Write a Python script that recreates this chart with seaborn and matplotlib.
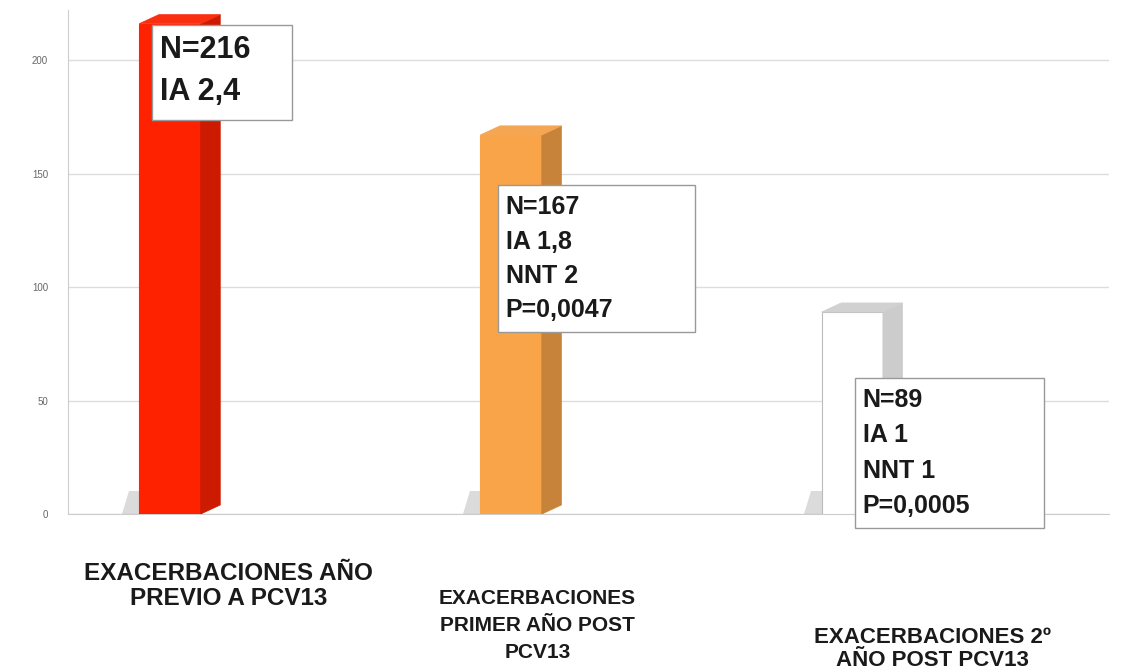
import matplotlib
matplotlib.use('Agg')
import matplotlib.pyplot as plt
import matplotlib.colors as mcolors
from matplotlib.patches import Polygon, Rectangle
import seaborn as sns

sns.set_style('white')
plt.rcParams['font.family'] = ['Liberation Sans', 'DejaVu Sans']

categories = ['EXACERBACIONES AÑO\nPREVIO A PCV13',
              'EXACERBACIONES\nPRIMER AÑO POST\nPCV13',
              'EXACERBACIONES 2º\nAÑO POST PCV13']
values = [216, 167, 89]
box_texts = ['N=216\nIA 2,4',
             'N=167\nIA 1,8\nNNT 2\nP=0,0047',
             'N=89\nIA 1\nNNT 1\nP=0,0005']
yticks = [0, 50, 100, 150, 200]

bar_colors = ['#ff2200', '#f9a448', '#ffffff']
edge_colors = ['#ff2200', '#f9a448', '#bbbbbb']

fig = plt.figure(figsize=(11.26, 6.72), dpi=100)
ax = fig.add_axes([0.06, 0.235, 0.925, 0.75])

x = list(range(len(categories)))
sns.barplot(x=x, y=values, hue=x, palette=bar_colors, width=0.18, saturation=1,
            legend=False, ax=ax, native_scale=True, zorder=3)

for i, p in enumerate(ax.patches):
    p.set_edgecolor(edge_colors[i])
    p.set_linewidth(0.8)
    x0, w, h = p.get_x(), p.get_width(), p.get_height()
    dx, dy = w * 0.32, 4
    side = tuple(c * 0.8 for c in mcolors.to_rgb(bar_colors[i]))
    ax.add_patch(Polygon([(x0 + w, 0), (x0 + w + dx, dy), (x0 + w + dx, h + dy), (x0 + w, h)],
                         closed=True, facecolor=side, edgecolor=side, lw=0.5, zorder=3))
    top = tuple(min(1, c * 0.92 + 0.06) for c in mcolors.to_rgb(bar_colors[i]))
    if i == 2:
        top = (0.82, 0.82, 0.82)
    ax.add_patch(Polygon([(x0, h), (x0 + dx, h + dy), (x0 + w + dx, h + dy), (x0 + w, h)],
                         closed=True, facecolor=top, edgecolor=top, lw=0.5, zorder=3))
    # shadow on the floor
    ax.add_patch(Polygon([(x0 - 0.05, 0), (x0 + w * 0.6, 0), (x0 + w * 0.6, 10), (x0 - 0.03, 10)],
                         closed=True, facecolor='#888888', alpha=0.3, edgecolor='none', zorder=2))

# annotation boxes (left, top, right, bottom) and text size
box_rects = [(-0.052, 215.5, 0.358, 173.5), (0.962, 145, 1.54, 80), (2.009, 60, 2.561, -6)]
box_sizes = [22, 18, 18]
box_spacing = [1.5, 1.55, 1.6]
for (l, t, r, b), txt, fs, ls in zip(box_rects, box_texts, box_sizes, box_spacing):
    ax.add_patch(Rectangle((l, b), r - l, t - b, facecolor='white', edgecolor='#999999',
                           lw=1, zorder=4, clip_on=False))
    ax.text(l + 0.022, t - 4.5, txt, fontsize=fs, fontweight='bold', color='#1a1a1a',
            va='top', ha='left', linespacing=ls, zorder=5)

ax.set_xlim(-0.30, 2.753)
ax.set_ylim(0, 222)
ax.set_yticks(yticks)
ax.set_yticklabels([str(t) for t in yticks], fontsize=7, color='#666666')
ax.yaxis.grid(True, color='#dddddd', lw=1, zorder=0)
ax.set_xticks(x)
ax.set_xticklabels([''] * len(x))
ax.tick_params(axis='both', length=0, pad=14)
for s in ['top', 'right']:
    ax.spines[s].set_visible(False)
ax.spines['left'].set_color('#cccccc')
ax.spines['bottom'].set_color('#cccccc')

label_x = [0.171, 1.077, 2.235]
label_y = [-0.095, -0.148, -0.225]
label_sizes = [17.5, 15, 16]
label_spacing = [1.1, 1.55, 1.1]
for lx, ly, lab, fs, ls in zip(label_x, label_y, categories, label_sizes, label_spacing):
    ax.text(lx, ly, lab, transform=ax.get_xaxis_transform(), ha='center', va='top',
            fontsize=fs, fontweight='bold', color='#1a1a1a', linespacing=ls)

plt.savefig('out.png', dpi=100)
plt.close()
